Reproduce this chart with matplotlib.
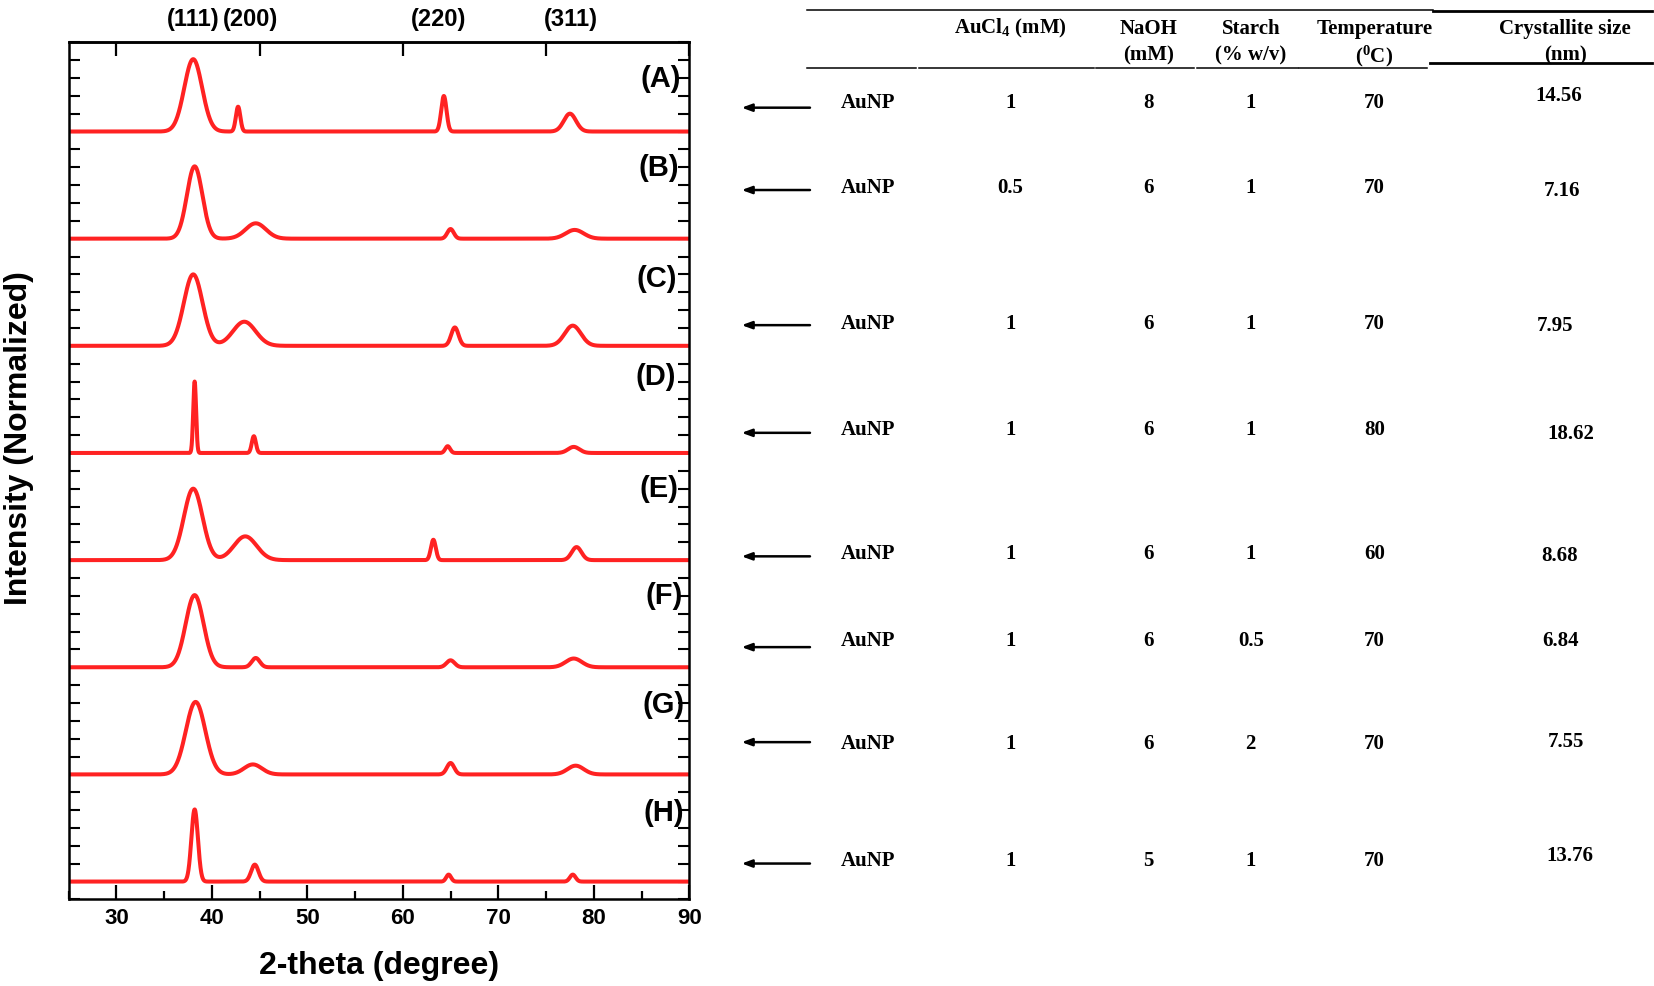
import numpy as np
import matplotlib
matplotlib.use("Agg")
import matplotlib.pyplot as plt
from matplotlib.lines import Line2D
from matplotlib.patches import FancyArrowPatch
from matplotlib.ticker import MultipleLocator

plt.rcParams['font.family'] = ['Liberation Sans', 'DejaVu Sans']
plt.rcParams['mathtext.fontset'] = 'custom'
plt.rcParams['mathtext.rm'] = 'Liberation Serif:bold'
plt.rcParams['mathtext.bf'] = 'Liberation Serif:bold'
plt.rcParams['mathtext.it'] = 'Liberation Serif:bold'

# ---------------- data ----------------
samples = ['(A)', '(B)', '(C)', '(D)', '(E)', '(F)', '(G)', '(H)']
planes = ['(111)', '(200)', '(220)', '(311)']
plane_pos = [38.0, 44.1, 63.7, 77.6]

# peak centres (2-theta, degree) for (111), (200), (220), (311)
peak_centers = {
    '(A)': [38.05, 42.75, 64.3, 77.5],
    '(B)': [38.2, 44.6, 65.0, 78.0],
    '(C)': [38.05, 43.4, 65.45, 77.8],
    '(D)': [38.2, 44.4, 64.7, 77.9],
    '(E)': [38.05, 43.5, 63.2, 78.2],
    '(F)': [38.2, 44.6, 65.0, 77.9],
    '(G)': [38.3, 44.3, 65.0, 78.1],
    '(H)': [38.2, 44.5, 64.8, 77.8],
}
# normalized peak heights
peak_heights = {
    '(A)': [4.05, 1.39, 1.99, 1.00],
    '(B)': [4.05, 0.86, 0.54, 0.49],
    '(C)': [4.00, 1.35, 1.03, 1.13],
    '(D)': [4.00, 0.94, 0.38, 0.34],
    '(E)': [4.00, 1.33, 1.14, 0.73],
    '(F)': [4.04, 0.52, 0.39, 0.49],
    '(G)': [4.06, 0.56, 0.64, 0.49],
    '(H)': [4.04, 0.95, 0.39, 0.39],
}
# peak FWHM (degree)
peak_fwhm = {
    '(A)': [2.2, 0.55, 0.65, 1.5],
    '(B)': [1.9, 2.5, 0.8, 2.2],
    '(C)': [2.3, 2.8, 0.9, 2.0],
    '(D)': [0.35, 0.5, 0.6, 1.4],
    '(E)': [2.3, 2.8, 0.6, 1.2],
    '(F)': [2.2, 1.0, 1.0, 2.0],
    '(G)': [2.4, 2.2, 0.9, 2.0],
    '(H)': [0.8, 0.9, 0.6, 0.7],
}

# table
col_headers = ['AuCl$_4$ (mM)', 'NaOH\n(mM)', 'Starch\n(% w/v)', 'Temperature\n($^0$C)', 'Crystallite size\n(nm)']
row_names = ['AuNP'] * 8
aucl4 = ['1', '0.5', '1', '1', '1', '1', '1', '1']
naoh = ['8', '6', '6', '6', '6', '6', '6', '5']
starch = ['1', '1', '1', '1', '1', '0.5', '2', '1']
temperature = ['70', '70', '70', '80', '60', '70', '70', '70']
crystallite = ['14.56', '7.16', '7.95', '18.62', '8.68', '6.84', '7.55', '13.76']

# ---------------- layout ----------------
W, H = 1567.0, 934.0
def fx(p): return p / W
def fy(p): return 1 - p / H

fig = plt.figure(figsize=(16.54, 9.86), dpi=100)
ax = fig.add_axes([fx(65), fy(852), fx(653) - fx(65), fy(40) - fy(852)])

red = '#ff2222'
x = np.linspace(25, 90, 4000)
offsets = [42, 36, 30, 24, 18, 12, 6, 0]
label_dy = [2.95, 3.95, 3.75, 4.25, 4.0, 4.0, 3.9, 3.85]
label_x = [89.1, 88.9, 88.7, 88.6, 88.9, 89.3, 89.5, 89.45]

for s, off, dy, lx in zip(samples, offsets, label_dy, label_x):
    y = np.full_like(x, float(off))
    for c, h, w in zip(peak_centers[s], peak_heights[s], peak_fwhm[s]):
        y += h * np.exp(-4 * np.log(2) * (x - c) ** 2 / w ** 2)
    ax.plot(x, y, color=red, lw=2.9, solid_capstyle='butt')
    ax.text(lx, off + dy, s, ha='right', va='center', fontsize=21, fontweight='bold')

ax.set_xlim(25, 90)
ax.set_ylim(-1, 47)
ax.set_xticks(range(30, 91, 10))
ax.xaxis.set_minor_locator(MultipleLocator(5))
ax.yaxis.set_major_locator(MultipleLocator(1))
ax.set_yticklabels([])
ax.tick_params(axis='x', which='major', direction='in', length=10, width=1.6,
               labelsize=16, pad=6, top=False)
ax.tick_params(axis='x', which='minor', direction='in', length=6, width=1.6, top=False)
ax.tick_params(axis='y', which='major', direction='in', length=8, width=1.5,
               left=True, right=True, labelleft=False)
for lab in ax.get_xticklabels():
    lab.set_fontweight('bold')
for sp in ax.spines.values():
    sp.set_linewidth(1.8)

sec = ax.secondary_xaxis('top')
sec.set_xticks([30, 45, 60, 75, 90])
sec.set_xticklabels([])
sec.tick_params(axis='x', direction='in', length=10, width=1.6)
sec.xaxis.set_minor_locator(plt.NullLocator())
sec.spines['top'].set_linewidth(1.8)

trans = ax.get_xaxis_transform()
for p, xp in zip(planes, plane_pos):
    ax.text(xp, 1.027, p, transform=trans, ha='center', va='center',
            fontsize=17, fontweight='bold')

fig.text(fx(359), fy(915), '2-theta (degree)', ha='center', va='center',
         fontsize=23, fontweight='bold')
fig.text(fx(18), fy(415), 'Intensity (Normalized)', ha='center', va='center',
         rotation=90, fontsize=23, fontweight='bold')

# ---------------- table ----------------
serif = ['Liberation Serif', 'DejaVu Serif']
def tline(x0, x1, y0, y1, lw):
    fig.add_artist(Line2D([fx(x0), fx(x1)], [fy(y0), fy(y1)], color='black',
                          lw=lw, transform=fig.transFigure))

tline(765, 1358, 9, 9, 1.1)
tline(1358, 1565, 10, 10, 2.0)
for a, b in [(765, 868), (871, 1036), (1038, 1131), (1134, 1230), (1231, 1352)]:
    tline(a, b, 64, 64, 1.1)
tline(1355, 1565, 60, 60, 2.0)

hdr_x = [957, 1088, 1185, 1302, 1483]
for hx, htxt in zip(hdr_x, col_headers):
    lines = htxt.split('\n')
    for i, t in enumerate(lines):
        fig.text(fx(hx), fy(27 + 26 * i), t, ha='center', va='center',
                 fontsize=15, fontweight='bold', family=serif)

row_y = [98, 178, 307, 407, 525, 607, 705, 816]
cryst_y = [91, 181, 309, 411, 527, 607, 703, 811]
cryst_x = [1477, 1480, 1473, 1488, 1478, 1478, 1484, 1487]
arrow_y = [102, 180, 308, 410, 527, 613, 703, 818]
col_x = [822, 957, 1088, 1185, 1302]

for i in range(8):
    vals = [row_names[i], aucl4[i], naoh[i], starch[i], temperature[i]]
    for cx, v in zip(col_x, vals):
        fig.text(fx(cx), fy(row_y[i]), v, ha='center', va='center',
                 fontsize=15, fontweight='bold', family=serif)
    fig.text(fx(cryst_x[i]), fy(cryst_y[i]), crystallite[i], ha='center', va='center',
             fontsize=15, fontweight='bold', family=serif)
    fig.add_artist(FancyArrowPatch(
        (fx(770), fy(arrow_y[i])), (fx(700), fy(arrow_y[i])),
        transform=fig.transFigure, arrowstyle='-|>,head_length=6,head_width=2.2',
        color='black', lw=1.8, mutation_scale=1))

fig.savefig('out.png', dpi=100)
